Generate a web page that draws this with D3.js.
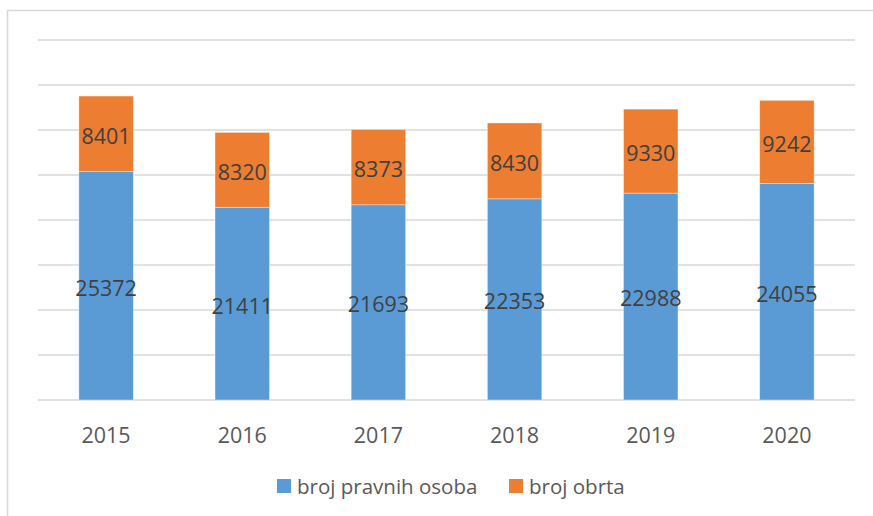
<!DOCTYPE html>
<html><head><meta charset="utf-8">
<script src="https://cdn.jsdelivr.net/npm/d3@7"></script>
<style>body{margin:0;background:#fff}svg{display:block}</style>
</head><body>
<svg id="c" width="873" height="516"></svg>
<script>
const years = ["2015","2016","2017","2018","2019","2020"];
const pravneOsobe = [25372, 21411, 21693, 22353, 22988, 24055];
const obrti = [8401, 8320, 8373, 8430, 9330, 9242];
const seriesNames = ["broj pravnih osoba", "broj obrta"];
const yTicks = [0,5000,10000,15000,20000,25000,30000,35000,40000];

const colors = ["#5B9BD5", "#ED7D31"];
const svg = d3.select("#c");
const font = "'Open Sans', 'Liberation Sans', sans-serif";

// frame
svg.append("rect").attr("x",7.5).attr("y",10.5).attr("width",900).attr("height",600)
  .attr("fill","none").attr("stroke","#D9D9D9").attr("stroke-width",1.5);

const x = d3.scaleBand().domain(years).range([38,855]).paddingInner(0.6).paddingOuter(0.3);
const y = d3.scaleLinear().domain([0,40000]).range([400,40]);

// gridlines
svg.append("g").selectAll("line").data(yTicks).join("line")
  .attr("x1",38).attr("x2",855).attr("y1",d=>y(d)).attr("y2",d=>y(d))
  .attr("stroke","#D9D9D9").attr("stroke-width",1.5);

const table = years.map((yr,i)=>({year:yr, a:pravneOsobe[i], b:obrti[i]}));
const stack = d3.stack().keys(["a","b"])(table);

const g = svg.append("g");
stack.forEach((s,si)=>{
  g.append("g").selectAll("rect").data(s).join("rect")
    .attr("x",d=>x(d.data.year)).attr("width",x.bandwidth())
    .attr("y",d=>y(d[1])).attr("height",d=>y(d[0])-y(d[1]))
    .attr("fill",colors[si]).attr("stroke","#ffffff").attr("stroke-opacity",0.5).attr("stroke-width",0.75);
  g.append("g").selectAll("text").data(s).join("text")
    .attr("x",d=>x(d.data.year)+x.bandwidth()/2)
    .attr("y",d=>(y(d[0])+y(d[1]))/2)
    .attr("dy","0.46em").attr("text-anchor","middle")
    .attr("font-family",font).attr("font-size",21.5).attr("fill","#404040")
    .text(d=>d[1]-d[0]);
});

// x axis
const xAxis = d3.axisBottom(x).tickSize(0).tickPadding(0);
const ax = svg.append("g").attr("transform","translate(0,400)").call(xAxis);
ax.select(".domain").remove();
ax.selectAll("text").attr("font-family",font).attr("font-size",21.5).attr("fill","#595959")
  .attr("y",35).attr("dy","0.36em");

// legend
const leg = svg.append("g");
const items = [{x:277, name:seriesNames[0], c:colors[0]},{x:509, name:seriesNames[1], c:colors[1]}];
items.forEach(it=>{
  leg.append("rect").attr("x",it.x).attr("y",479).attr("width",14).attr("height",14).attr("fill",it.c);
  leg.append("text").attr("x",it.x+20).attr("y",486).attr("dy","0.38em")
    .attr("font-family",font).attr("font-size",20.5).attr("fill","#595959").text(it.name);
});
</script>
</body></html>
